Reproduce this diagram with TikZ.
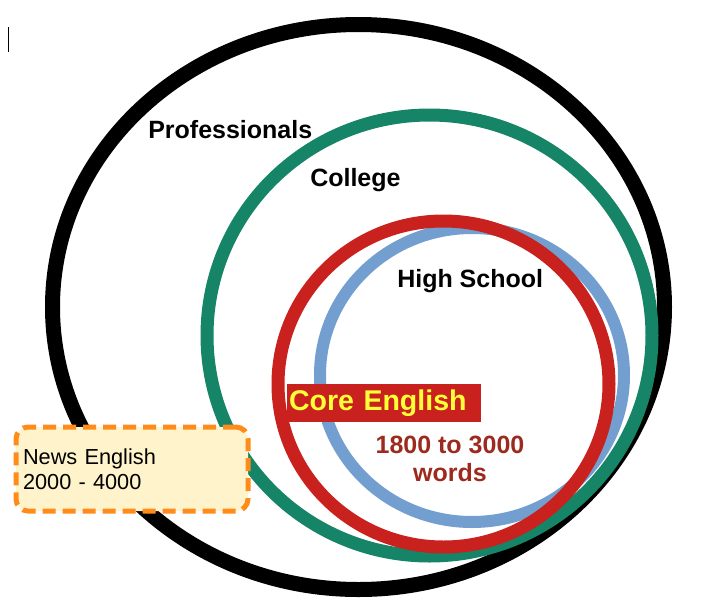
\documentclass[tikz,border=0pt]{standalone}
\usepackage{fontspec}
\setmainfont{Liberation Sans}
\usepackage{tikz}
\usetikzlibrary{positioning}
\usepackage{xcolor}
\definecolor{vgreen}{HTML}{168467}
\definecolor{vred}{HTML}{C9211E}
\definecolor{vblue}{HTML}{729FCF}
\definecolor{vorange}{HTML}{FF8C1A}
\definecolor{vcream}{HTML}{FFF3CC}
\definecolor{vbrown}{HTML}{9C2A1E}
\definecolor{vyellow}{HTML}{FFFF38}
\tikzset{
  ring/.style={line width=#1},
  lbl/.style={font=\fontsize{18.75}{22}\selectfont\bfseries, inner sep=0pt, anchor=base west},
  corebox/.style={fill=vred, text=vyellow, minimum width=145.5pt, minimum height=28.5pt,
                  text width=142.5pt, align=left, inner sep=1.5pt,
                  font=\fontsize{21.4}{25}\selectfont\bfseries},
  newsbox/.style={draw=vorange, fill=vcream, line width=3.75pt, rounded corners=9pt,
                  dash pattern=on 9.75pt off 5.25pt, minimum width=174pt, minimum height=63pt,
                  text width=163.5pt, align=left, inner sep=0pt,
                  font=\fontsize{16.3}{18.75}\selectfont},
}
\begin{document}
\begin{tikzpicture}[x=0.75pt, y=-0.75pt]
  \useasboundingbox (0,0) rectangle (715,608);
  \draw[line width=0.75pt] (8.5,27) -- (8.5,52);
  % rings, outer to inner
  \draw[ring=11.25pt, black] (358.5,307) ellipse [x radius=306, y radius=282.5];
  \draw[ring=9.75pt, vgreen] (429.5,335.5) ellipse [x radius=222.5, y radius=220.5];
  \draw[ring=9pt, vblue] (472,375) ellipse [x radius=152, y radius=147];
  \draw[ring=9.75pt, vred] (443.5,384) ellipse [x radius=165.5, y radius=163];
  % labels
  \node[lbl] (prof) at (148,138) {Professionals};
  \node[lbl] (coll) at (310,186) {College};
  \node[lbl] (high) at (397,287) {High School};
  \node[corebox] (core) at (384,403) {Core English};
  \node[font=\fontsize{18.75}{21}\selectfont\bfseries, text=vbrown, align=center,
        inner sep=0pt] (words) at (450,458.5) {1800 to 3000\\words};
  \node[newsbox] (news) at (132,469) {News English\\2000 - 4000};
\end{tikzpicture}
\end{document}
